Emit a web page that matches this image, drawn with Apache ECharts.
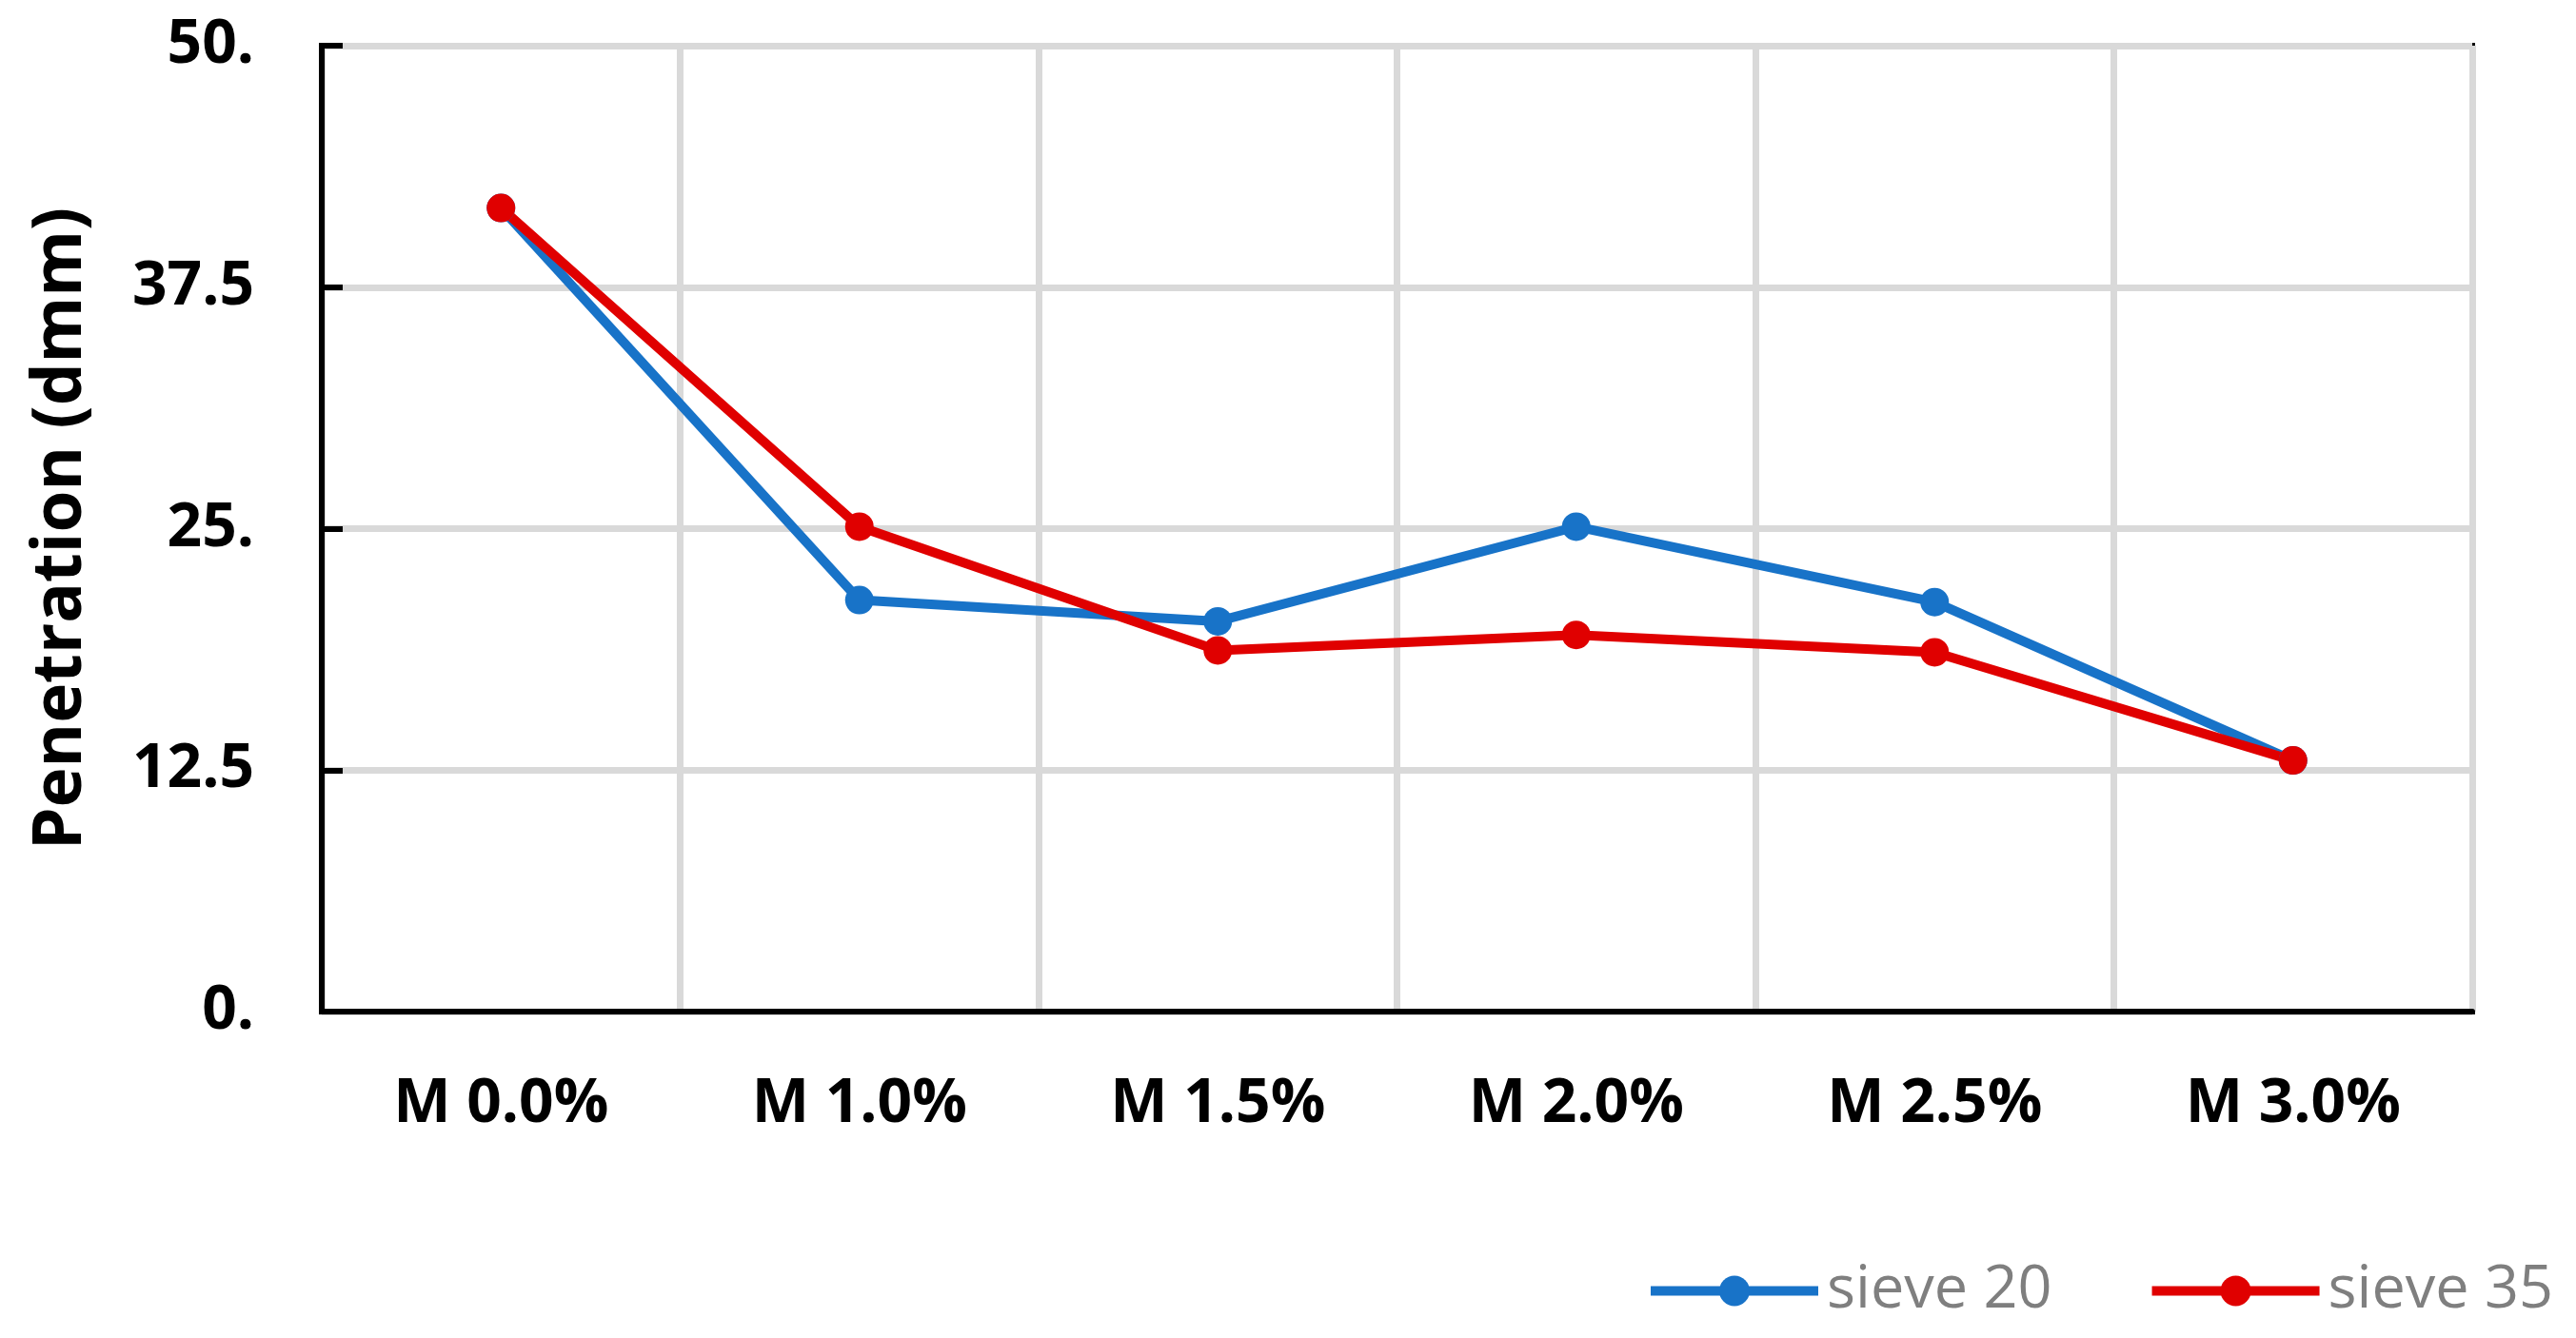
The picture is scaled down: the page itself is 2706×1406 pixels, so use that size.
<!DOCTYPE html>
<html>
<head>
<meta charset="utf-8">
<script src="https://cdn.jsdelivr.net/npm/echarts@6/dist/echarts.min.js"></script>
<style>
  html, body { margin: 0; padding: 0; background: #fff; }
  #main { width: 2706px; height: 1406px; }
</style>
</head>
<body>
<div id="main"></div>
<script>
var categories = ['M 0.0%', 'M 1.0%', 'M 1.5%', 'M 2.0%', 'M 2.5%', 'M 3.0%'];
var sieve20 = [41.6, 21.3, 20.2, 25.1, 21.2, 13.0];
var sieve35 = [41.6, 25.1, 18.7, 19.5, 18.6, 13.0];
var yTickLabels = ['0.', '12.5', '25.', '37.5', '50.'];

var fontFamily = '"Open Sans", "Noto Sans", sans-serif';

var myChart = echarts.init(document.getElementById('main'));
myChart.setOption({
    animation: false,
    backgroundColor: '#fff',
    grid: {
        left: 338,
        right: 109,
        top: 48,
        bottom: 343,
        show: true,
        borderColor: '#000',
        borderWidth: 6
    },
    legend: {
        left: 1724,
        top: 1320,
        itemWidth: 176,
        itemHeight: 40,
        itemGap: 100,
        lineStyle: { width: 10 },
        textStyle: {
            fontFamily: fontFamily,
            fontSize: 63,
            color: '#7f7f7f',
            padding: [0, 0, 0, 4]
        },
        data: ['sieve 20', 'sieve 35']
    },
    xAxis: {
        type: 'category',
        data: categories,
        boundaryGap: true,
        axisLine: { lineStyle: { color: '#000', width: 6 } },
        axisTick: { inside: true, length: 22, lineStyle: { color: '#000', width: 6 } },
        splitLine: { show: true, lineStyle: { color: '#d9d9d9', width: 7 } },
        axisLabel: {
            margin: 66,
            lineHeight: 64,
            fontFamily: fontFamily,
            fontWeight: 'bold',
            fontSize: 64,
            color: '#000'
        }
    },
    yAxis: {
        type: 'value',
        min: 0,
        max: 50,
        interval: 12.5,
        name: 'Penetration (dmm)',
        nameLocation: 'middle',
        nameGap: 238,
        nameTextStyle: {
            fontFamily: fontFamily,
            fontWeight: 'bold',
            fontSize: 71,
            color: '#000'
        },
        axisLine: { show: true, lineStyle: { color: '#000', width: 6 } },
        axisTick: { show: true, inside: true, length: 22, lineStyle: { color: '#000', width: 6 } },
        splitLine: { show: true, lineStyle: { color: '#d9d9d9', width: 7 } },
        axisLabel: {
            margin: 71,
            fontFamily: fontFamily,
            fontWeight: 'bold',
            fontSize: 64,
            color: '#000',
            formatter: function (v) { return yTickLabels[Math.round(v / 12.5)]; }
        }
    },
    series: [
        {
            name: 'sieve 20',
            type: 'line',
            data: sieve20,
            symbol: 'circle',
            symbolSize: 30,
            itemStyle: { color: '#1873c8' },
            lineStyle: { color: '#1873c8', width: 10 }
        },
        {
            name: 'sieve 35',
            type: 'line',
            data: sieve35,
            symbol: 'circle',
            symbolSize: 30,
            itemStyle: { color: '#e00000' },
            lineStyle: { color: '#e00000', width: 10 }
        }
    ]
});
</script>
</body>
</html>
